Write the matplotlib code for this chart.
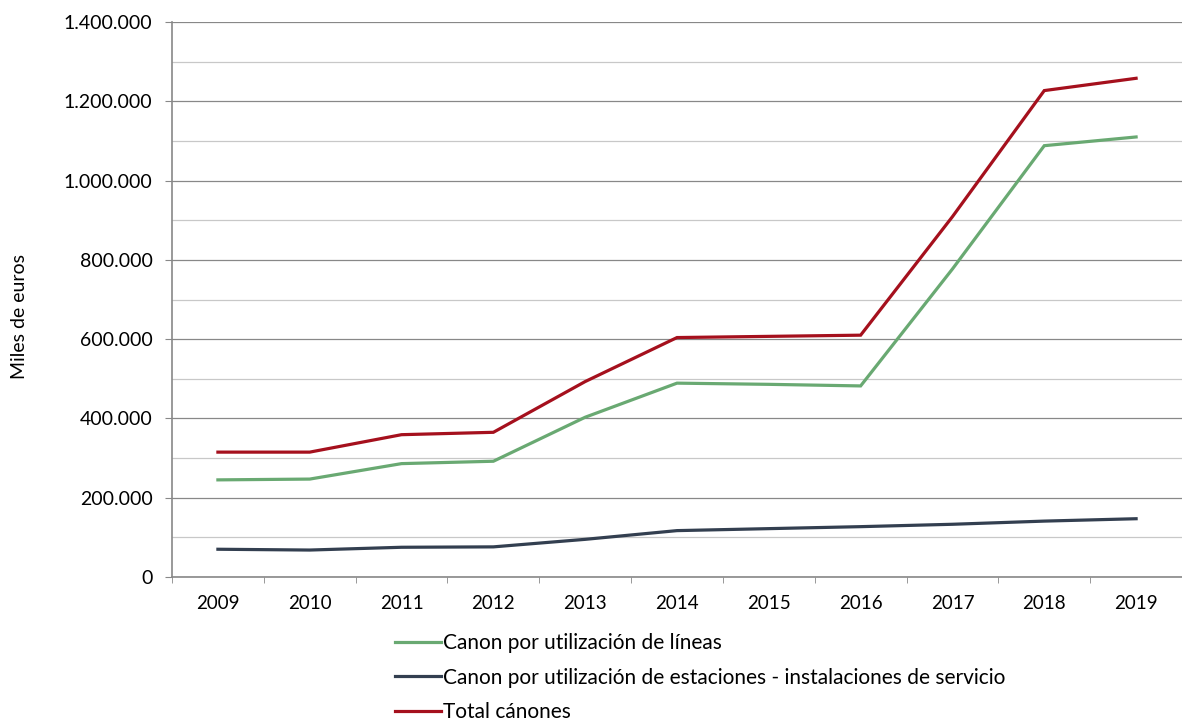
import matplotlib
matplotlib.use("Agg")
import matplotlib.pyplot as plt
from matplotlib.ticker import FuncFormatter, MultipleLocator

plt.rcParams["font.family"] = ["Lato", "DejaVu Sans"]
plt.rcParams["font.size"] = 13.5

years = ["2009", "2010", "2011", "2012", "2013", "2014", "2015", "2016", "2017", "2018", "2019"]
lineas = [245000, 247000, 286000, 292000, 403000, 489000, 486000, 482000, 777000, 1088000, 1110000]
estaciones = [70000, 68000, 75000, 76000, 95000, 117000, 122000, 127000, 133000, 141000, 147000]
total = [315000, 315000, 359000, 365000, 493000, 604000, 607000, 610000, 909000, 1227000, 1258000]

labels = ["Canon por utilización de líneas",
          "Canon por utilización de estaciones - instalaciones de servicio",
          "Total cánones"]
colors = ["#69a972", "#333f50", "#a5101d"]

fig = plt.figure(figsize=(11.82, 7.23), dpi=100)
ax = fig.add_axes([172 / 1182, 1 - 577 / 723, 1010 / 1182, 555 / 723])

x = list(range(len(years)))
for series, lab, col in zip([lineas, estaciones, total], labels, colors):
    ax.plot(x, series, color=col, lw=2.3, label=lab, zorder=3, solid_joinstyle="miter")

ax.set_xlim(-0.5, len(years) - 0.5)
ax.set_ylim(0, 1400000)

# y axis: labels every 200.000, grid every 100.000
ax.yaxis.set_major_locator(MultipleLocator(200000))
ax.yaxis.set_minor_locator(MultipleLocator(100000))
ax.yaxis.set_major_formatter(FuncFormatter(lambda v, p: f"{v:,.0f}".replace(",", ".")))
ax.grid(axis="y", which="major", color="#888888", lw=0.9, zorder=0)
ax.grid(axis="y", which="minor", color="#c8c8c8", lw=0.9, zorder=0)
ax.tick_params(axis="y", which="major", length=5, color="#888888", pad=9, labelsize=14)
ax.tick_params(axis="y", which="minor", length=0)

# x axis: category labels, tick marks between categories
ax.set_xticks(x)
ax.set_xticklabels(years)
ax.set_xticks([i - 0.5 for i in range(len(years) + 1)], minor=True)
ax.tick_params(axis="x", which="major", length=0, pad=13, labelsize=13.5)
ax.tick_params(axis="x", which="minor", length=4, color="#888888")

for s in ["top", "right"]:
    ax.spines[s].set_visible(False)
for s in ["left", "bottom"]:
    ax.spines[s].set_color("#888888")
    ax.spines[s].set_linewidth(1.2)

ax.set_ylabel("Miles de euros", fontsize=14)
ax.yaxis.set_label_coords(-0.143, 0.47)

fig.legend(loc="upper left", bbox_to_anchor=(395 / 1182, 1 - 633 / 723),
           frameon=False, fontsize=15, handlelength=2.2, handletextpad=0.1,
           labelspacing=0.7, borderpad=0, borderaxespad=0)

fig.savefig("out.png", dpi=100)
